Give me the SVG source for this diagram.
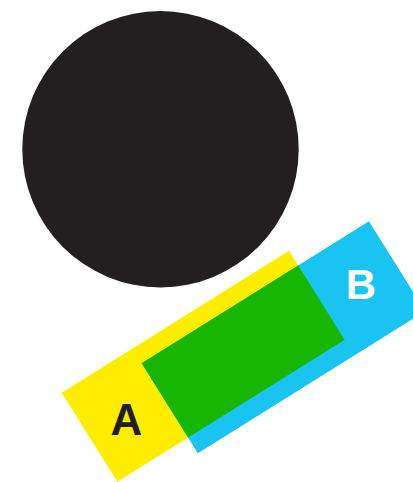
<svg xmlns="http://www.w3.org/2000/svg" width="413" height="482" viewBox="0 0 413 482">
  <style>
    .lbl { font-family: "Liberation Sans", Arial, sans-serif; font-weight: bold; text-anchor: middle; }
  </style>
  <defs>
    <clipPath id="clipA" clipPathUnits="userSpaceOnUse">
      <rect x="0" y="0" width="268" height="105" transform="translate(61.7,392.7) rotate(-32)"/>
    </clipPath>
  </defs>
  <rect width="413" height="482" fill="#ffffff"/>
  <g id="circle">
    <circle cx="160.5" cy="149.2" r="138.2" fill="#231F20"/>
  </g>
  <g id="setA">
    <rect x="0" y="0" width="268" height="105" fill="#FFED00" transform="translate(61.7,392.7) rotate(-32)"/>
  </g>
  <g id="setB">
    <rect x="0" y="0" width="268" height="106" fill="#19C3F2" transform="translate(141.7,363.3) rotate(-32)"/>
  </g>
  <g id="intersection" clip-path="url(#clipA)">
    <rect x="0" y="0" width="268" height="106" fill="#17B602" transform="translate(141.7,363.3) rotate(-32)"/>
  </g>
  <g id="labels">
    <text class="lbl" x="126.3" y="435" font-size="44" fill="#231F20">A</text>
    <text class="lbl" x="361" y="299.3" font-size="42" fill="#ffffff">B</text>
  </g>
</svg>
